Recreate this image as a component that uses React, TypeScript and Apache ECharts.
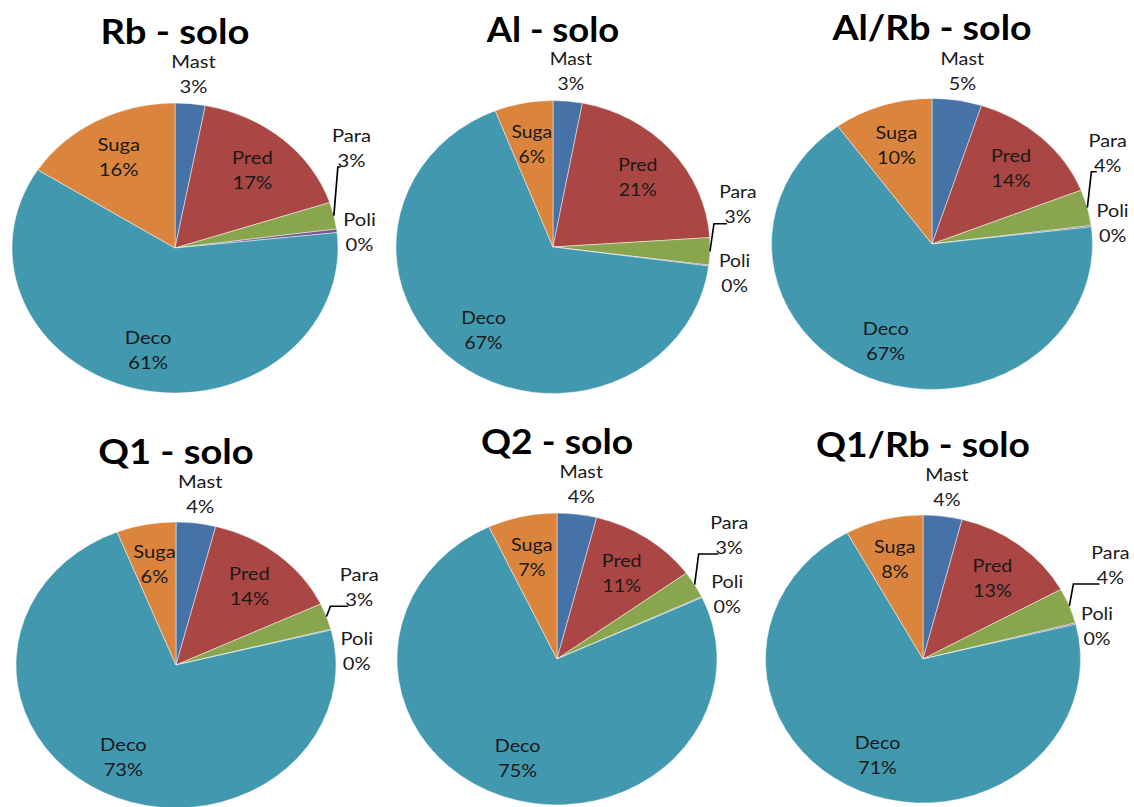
import React, { useEffect, useRef } from 'react';
import * as echarts from 'echarts';

// Feeding guilds, in the order the slices run clockwise from 12 o'clock
const categories = ['Mast', 'Pred', 'Para', 'Poli', 'Deco', 'Suga'];
const titles = ['Rb - solo', 'Al - solo', 'Al/Rb - solo', 'Q1 - solo', 'Q2 - solo', 'Q1/Rb - solo'];

// Share of each guild (%) per treatment
const rbSolo = [3, 17, 3, 0.4, 61, 16];
const alSolo = [3, 21, 3, 0.1, 67, 6];
const alRbSolo = [5, 14, 4, 0.15, 67, 10];
const q1Solo = [4, 14, 3, 0.1, 73, 6];
const q2Solo = [4, 11, 3, 0.1, 75, 7];
const q1RbSolo = [4, 13, 4, 0.15, 71, 8];
const treatments = [rbSolo, alSolo, alRbSolo, q1Solo, q2Solo, q1RbSolo];

const sliceColors = ['#4572A7', '#AA4643', '#89A54E', '#71588F', '#4198AF', '#DB843D'];

// Where each (slightly elliptical) pie sits on the page, plus small nudges (px)
// for the crowded Para / Poli labels on the right-hand side
const frames = [
  { cx: 175, cy: 248, rx: 163, ry: 145, titleY: 31, poli: [0, 3], para: [-6, -15] },
  { cx: 553, cy: 247, rx: 157, ry: 146.5, titleY: 29, poli: [4, 5], para: [9, 2] },
  { cx: 932, cy: 244, rx: 160.5, ry: 145.5, titleY: 27, poli: [-1, -1.5], para: [-4, -5.5] },
  { cx: 176, cy: 665, rx: 160, ry: 143, titleY: 451, poli: [4, 26], para: [4, 28] },
  { cx: 557, cy: 659, rx: 160, ry: 146, titleY: 441, poli: [5, 5], para: [-7, 12] },
  { cx: 923, cy: 659, rx: 157.5, ry: 144, titleY: 444, poli: [0, 7], para: [11, 12] },
];

const FONT = 'Lato, "Open Sans", "Noto Sans", sans-serif';
const LABEL_SIZE = 18;
const LINE_H = 25;

// label placement per guild: inside the slice, outside along its bisector, or lifted above Poli
const labelMode: Record<string, { kind: string; dist: number }> = {
  Mast: { kind: 'outer', dist: 1.21 },
  Pred: { kind: 'inner', dist: 0.72 },
  Para: { kind: 'lifted', dist: 1.2 },
  Poli: { kind: 'outer', dist: 1.14 },
  Deco: { kind: 'inner', dist: 0.72 },
  Suga: { kind: 'inner', dist: 0.72 },
};

const TAU = Math.PI * 2;
const onCircle = (ang: number, d: number) => [d * Math.sin(ang), -d * Math.cos(ang)];

type Frame = (typeof frames)[number];

function makeRenderItem(frame: Frame) {
  const sx = frame.rx / frame.ry;
  const r = frame.ry;
  return (params: any, api: any) => {
    const i = params.dataIndex;
    const v = api.value(0);
    const start = api.value(1);
    const total = api.value(2);
    const a0 = (start / total) * TAU;
    const a1 = ((start + v) / total) * TAU;
    const mid = (a0 + a1) / 2;
    const name = categories[i];
    const text = name + '\n' + Math.round((v / total) * 100) + '%';
    const mode = labelMode[name];

    const children: any[] = [
      {
        type: 'sector',
        shape: {
          cx: 0,
          cy: 0,
          r0: 0,
          r,
          startAngle: a0 - Math.PI / 2,
          endAngle: a1 - Math.PI / 2,
          clockwise: true,
        },
        style: { fill: sliceColors[i], stroke: 'rgba(255,255,255,0.55)', lineWidth: 0.8 },
      },
    ];

    let lx: number;
    let ly: number;
    if (mode.kind === 'lifted') {
      // keep Para clear of the Poli label beneath it
      const poliV = api.value(0, 3);
      const poliS = api.value(1, 3);
      const poliMid = ((poliS + poliV / 2) / total) * TAU;
      const poliY = -labelMode.Poli.dist * r * Math.cos(poliMid);
      const ownY = -mode.dist * r * Math.cos(mid);
      ly = Math.min(ownY, poliY - 66) + frame.para[1];
      lx = 1.12 * r + frame.para[0] / sx;
      const edge = onCircle(mid, r);
      const pctY = ly + LINE_H / 2 + 7;
      const elbowX = edge[0] + 4 / sx;
      const endX = lx - 11 / sx;
      const pts = [edge, [elbowX, pctY]];
      if (endX > elbowX) pts.push([endX, pctY]);
      children.push({
        type: 'polyline',
        z2: 50,
        shape: { points: pts },
        style: { stroke: '#000', lineWidth: 1.5, fill: null },
      });
    } else {
      [lx, ly] = onCircle(mid, mode.dist * r);
      if (name === 'Poli') {
        lx += frame.poli[0] / sx;
        ly += frame.poli[1];
      }
    }

    children.push({
      type: 'text',
      z2: 100,
      x: lx,
      y: ly,
      style: {
        text,
        fill: '#1a1a1a',
        fontSize: LABEL_SIZE,
        fontFamily: FONT,
        lineHeight: LINE_H,
        align: 'center',
        verticalAlign: 'middle',
      },
    });

    return { type: 'group', x: frame.cx, y: frame.cy, scaleX: sx, children };
  };
}

export default function App() {
  const ref = useRef<HTMLDivElement>(null);

  useEffect(() => {
    if (!ref.current) return;
    const chart = echarts.init(ref.current, null, { renderer: 'svg' });

    const series = treatments.map((values, k) => {
      const total = values.reduce((s, x) => s + x, 0);
      let acc = 0;
      const data = values.map((v) => {
        const row = [v, acc, total];
        acc += v;
        return row;
      });
      return {
        type: 'custom',
        name: titles[k],
        coordinateSystem: 'none',
        silent: true,
        renderItem: makeRenderItem(frames[k]),
        data,
      };
    });

    const graphic = frames.map((f, k) => ({
      type: 'text',
      x: f.cx,
      y: f.titleY,
      scaleX: f.rx / f.ry,
      style: {
        text: titles[k],
        fill: '#000',
        fontSize: 34,
        fontWeight: 'bold',
        fontFamily: FONT,
        align: 'center',
        verticalAlign: 'middle',
      },
    }));

    chart.setOption({
      animation: false,
      backgroundColor: '#ffffff',
      graphic,
      series,
    } as any);

    return () => chart.dispose();
  }, []);

  return (
    <div
      ref={ref}
      style={{ position: 'absolute', left: 0, top: 0, width: 1134, height: 807, background: '#fff' }}
    />
  );
}
